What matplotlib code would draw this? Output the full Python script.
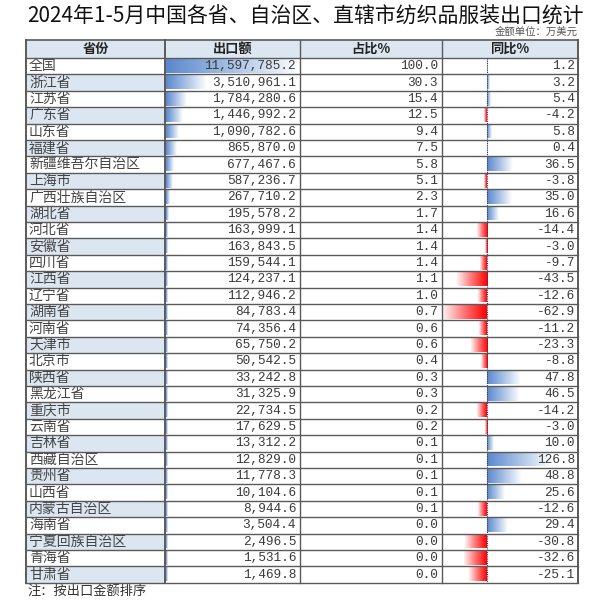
import numpy as np
import matplotlib
matplotlib.use("Agg")
import matplotlib.pyplot as plt
from matplotlib.colors import LinearSegmentedColormap

plt.rcParams['font.family'] = ['Noto Sans CJK SC', 'DejaVu Sans']

title = "2024年1-5月中国各省、自治区、直辖市纺织品服装出口统计"
unit_note = "金额单位：万美元"
footer = "注：按出口金额排序"
headers = ["省份", "出口额", "占比%", "同比%"]

provinces = ["全国", "浙江省", "江苏省", "广东省", "山东省", "福建省", "新疆维吾尔自治区",
             "上海市", "广西壮族自治区", "湖北省", "河北省", "安徽省", "四川省", "江西省",
             "辽宁省", "湖南省", "河南省", "天津市", "北京市", "陕西省", "黑龙江省", "重庆市",
             "云南省", "吉林省", "西藏自治区", "贵州省", "山西省", "内蒙古自治区", "海南省",
             "宁夏回族自治区", "青海省", "甘肃省"]
export_value = [11597785.2, 3510961.1, 1784280.6, 1446992.2, 1090782.6, 865870.0, 677467.6,
                587236.7, 267710.2, 195578.2, 163999.1, 163843.5, 159544.1, 124237.1,
                112946.2, 84783.4, 74356.4, 65750.2, 50542.5, 33242.8, 31325.9, 22734.5,
                17629.5, 13312.2, 12829.0, 11778.3, 10104.6, 8944.6, 3504.4,
                2496.5, 1531.6, 1469.8]
share_pct = [100.0, 30.3, 15.4, 12.5, 9.4, 7.5, 5.8, 5.1, 2.3, 1.7, 1.4, 1.4, 1.4, 1.1,
             1.0, 0.7, 0.6, 0.6, 0.4, 0.3, 0.3, 0.2, 0.2, 0.1, 0.1, 0.1, 0.1, 0.1, 0.0,
             0.0, 0.0, 0.0]
yoy_pct = [1.2, 3.2, 5.4, -4.2, 5.8, 0.4, 36.5, -3.8, 35.0, 16.6, -14.4, -3.0, -9.7, -43.5,
           -12.6, -62.9, -11.2, -23.3, -8.8, 47.8, 46.5, -14.2, -3.0, 10.0, 126.8, 48.8,
           25.6, -12.6, 29.4, -30.8, -32.6, -25.1]

# ---- layout (pixel units) ----
W, H = 600, 600
col_edges = [26, 165, 300, 442, 578]
head_top, head_bot = 40, 58
row_h = 16.4
n = len(provinces)
table_bot = head_bot + n * row_h

fig = plt.figure(figsize=(6, 6), dpi=100)
ax = fig.add_axes([0, 0, 1, 1])
ax.set_xlim(0, W)
ax.set_ylim(H, 0)
ax.axis('off')

grid_c = '#5a5a5a'
blue_fill = '#dce6f1'
txt_c = '#3a3a3a'
num_font = 'Liberation Mono'

# title
ax.text(306, 17, title, ha='center', va='center', fontsize=15, color='#111111')
ax.text(578, 32, unit_note, ha='right', va='center', fontsize=7.5, color='#555555')

# header fill
ax.add_patch(plt.Rectangle((col_edges[0], head_top), col_edges[-1] - col_edges[0],
                           head_bot - head_top, facecolor=blue_fill, edgecolor='none', zorder=0))
for j, h in enumerate(headers):
    ax.text((col_edges[j] + col_edges[j + 1]) / 2, (head_top + head_bot) / 2, h,
            ha='center', va='center', fontsize=9.5, fontweight='bold', color='#222222')

# row fills in province column
for i in range(n):
    y0 = head_bot + i * row_h
    if i % 2 == 1:
        ax.add_patch(plt.Rectangle((col_edges[0], y0), col_edges[1] - col_edges[0], row_h,
                                   facecolor=blue_fill, edgecolor='none', zorder=0))

blue_cmap = LinearSegmentedColormap.from_list('b', ['#5a88cc', '#a9c2e6', '#ffffff'])
red_cmap = LinearSegmentedColormap.from_list('r', ['#ff0000', '#ff7070', '#fff2f2'])
grad = np.linspace(0, 1, 256).reshape(1, -1)

def gbar(x_start, x_end, y0, y1, cmap):
    # gradient goes from x_start (saturated) to x_end (pale)
    if x_end >= x_start:
        ax.imshow(grad, cmap=cmap, extent=[x_start, x_end, y1, y0], aspect='auto',
                  interpolation='bilinear', zorder=1)
    else:
        ax.imshow(grad[:, ::-1], cmap=cmap, extent=[x_end, x_start, y1, y0], aspect='auto',
                  interpolation='bilinear', zorder=1)

# export value bars
exp_max = max(export_value)
exp_span = col_edges[2] - col_edges[1] - 1
yoy_axis = 487
neg_scale = (yoy_axis - col_edges[3] - 1) / abs(min(yoy_pct))
pos_cap = 65
for i in range(n):
    y0 = head_bot + i * row_h + 1.5
    y1 = head_bot + (i + 1) * row_h - 1.5
    L = max(export_value[i] / exp_max * exp_span, 1.5)
    gbar(col_edges[1] + 0.5, col_edges[1] + 0.5 + L, y0, y1, blue_cmap)
    v = yoy_pct[i]
    if v >= 0:
        L2 = max(min(v * neg_scale, pos_cap), 1.0)
        gbar(yoy_axis, yoy_axis + L2, y0, y1, blue_cmap)
    else:
        L2 = max(-v * neg_scale, 1.0)
        gbar(yoy_axis, yoy_axis - L2, y0, y1, red_cmap)

# dotted axis in yoy column
ax.plot([yoy_axis, yoy_axis], [head_bot, table_bot], color='#333366', lw=0.8,
        ls=(0, (1, 1)), zorder=2)

# texts
for i in range(n):
    yc = head_bot + (i + 0.5) * row_h
    ax.text(col_edges[0] + 3, yc, provinces[i], ha='left', va='center', fontsize=10,
            color='#444444', zorder=3)
    ax.text(col_edges[2] - 4, yc, f"{export_value[i]:,.1f}", ha='right', va='center',
            fontsize=9.2, family=num_font, color=txt_c, zorder=3)
    ax.text(col_edges[3] - 4, yc, f"{share_pct[i]:.1f}", ha='right', va='center',
            fontsize=9.2, family=num_font, color=txt_c, zorder=3)
    ax.text(col_edges[4] - 3, yc, f"{yoy_pct[i]:.1f}", ha='right', va='center',
            fontsize=9.2, family=num_font, color=txt_c, zorder=3)

# grid lines
for k in range(n + 1):
    y = head_bot + k * row_h
    ax.plot([col_edges[0], col_edges[-1]], [y, y], color=grid_c, lw=1.0, zorder=4)
ax.plot([col_edges[0], col_edges[-1]], [head_top, head_top], color=grid_c, lw=1.2, zorder=4)
for j, x in enumerate(col_edges):
    lw = 1.4 if j in (0, len(col_edges) - 1, 1) else 1.0
    ax.plot([x, x], [head_top, table_bot], color=grid_c, lw=lw, zorder=4)

ax.text(col_edges[0] + 1, 592, footer, ha='left', va='center', fontsize=9.5, color='#333333')

fig.savefig('out.png', dpi=100)
